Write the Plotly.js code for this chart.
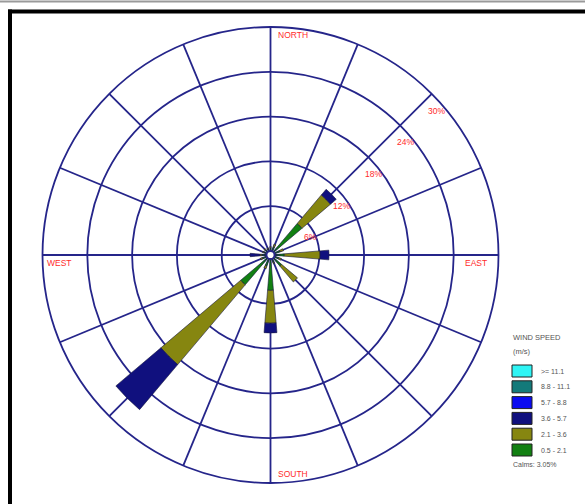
<!DOCTYPE html>
<html>
<head>
<meta charset="utf-8">
<script src="https://cdn.plot.ly/plotly-3.0.1.min.js"></script>
<style>
html,body{margin:0;padding:0;background:#fff;}
#chart{width:585px;height:504px;}
</style>
</head>
<body>
<div id="chart"></div>
<script>
// ---- data ----
var directions = [0, 22.5, 45, 67.5, 90, 112.5, 135, 157.5, 180, 202.5, 225, 247.5, 270, 292.5, 315, 337.5];
var speedClasses = ["0.5 - 2.1", "2.1 - 3.6", "3.6 - 5.7", "5.7 - 8.8", "8.8 - 11.1", ">= 11.1"];
var classColors = ["#128012", "#868610", "#10107e", "#0a0af0", "#137a7a", "#2ff5f5"];
var green  = [0.4, 0.6, 5.0, 0.8, 1.3, 0.6, 1.4, 0.5, 4.2, 1.0, 4.7, 0.6, 0.6, 0.4, 0.4, 0.3];
var olive  = [0.2, 0.4, 5.0, 0.5, 4.8, 0.4, 2.8, 0.2, 4.4, 0.4, 14.0, 0.3, 0.3, 0.2, 0.2, 0.2];
var navy   = [0, 0, 1.0, 0, 1.2, 0, 0, 0, 1.3, 0, 7.9, 0, 1.3, 0, 0, 0];
var blue   = [0, 0, 0, 0, 0, 0, 0, 0, 0, 0, 0, 0, 0, 0, 0, 0];
var teal   = [0, 0, 0, 0, 0, 0, 0, 0, 0, 0, 0, 0, 0, 0, 0, 0];
var cyan   = [0, 0, 0, 0, 0, 0, 0, 0, 0, 0, 0, 0, 0, 0, 0, 0];
var seriesValues = [green, olive, navy, blue, teal, cyan];
var radialTicks = [6, 12, 18, 24, 30];
var radialTickLabels = ["6%", "12%", "18%", "24%", "30%"];
var compassLabels = ["NORTH", "EAST", "SOUTH", "WEST"];
var legendTitle = ["WIND SPEED", "(m/s)"];
var calmsText = "Calms: 3.05%";

// ---- layout geometry (pixels) ----
var W = 585, H = 504;
var cx = 270.5, cy = 255, R = 228, holePx = 4;
function px(x){ return x / W; }
function py(y){ return 1 - y / H; }

var grid = "#25258a";
var red = "#ff2b2b";

var traces = seriesValues.map(function(vals, i){
  return {
    type: "barpolar",
    r: vals,
    theta: directions,
    width: 9.5,
    name: speedClasses[i],
    marker: {color: classColors[i], line: {color: "#1a1a40", width: 0.6}},
    showlegend: false,
    hoverinfo: "skip"
  };
});

var annotations = [];
var shapes = [];

// compass labels
var compassPos = [[293, 35], [476, 263], [293, 474], [59, 263]];
compassLabels.forEach(function(t, i){
  annotations.push({xref:"paper", yref:"paper", x:px(compassPos[i][0]), y:py(compassPos[i][1]),
    text:t, showarrow:false, xanchor:"center", yanchor:"middle",
    font:{family:"Liberation Sans, Arial, sans-serif", size:8.5, color:red}});
});

// radial percentage labels along the 45 degree spoke
var rMax = radialTicks[radialTicks.length - 1];
radialTicks.forEach(function(v, i){
  var rp = holePx + v / rMax * (R - holePx);
  var x = cx + rp * Math.SQRT1_2 + 5;
  var y = cy - rp * Math.SQRT1_2 + 17;
  annotations.push({xref:"paper", yref:"paper", x:px(x), y:py(y),
    text:radialTickLabels[i], showarrow:false, xanchor:"center", yanchor:"middle",
    font:{family:"Liberation Sans, Arial, sans-serif", size:8.5, color:red}});
});

// legend (drawn manually)
var legTop = 365, legStep = 15.8, boxW = 20, boxH = 12, boxX = 512;
annotations.push({xref:"paper", yref:"paper", x:px(boxX - 1), y:py(337), text:legendTitle[0],
  showarrow:false, xanchor:"left", yanchor:"middle",
  font:{family:"Liberation Sans, Arial, sans-serif", size:7.5, color:"#555"}});
annotations.push({xref:"paper", yref:"paper", x:px(boxX - 1), y:py(351), text:legendTitle[1],
  showarrow:false, xanchor:"left", yanchor:"middle",
  font:{family:"Liberation Sans, Arial, sans-serif", size:7.5, color:"#555"}});
for (var k = 0; k < speedClasses.length; k++){
  var idx = speedClasses.length - 1 - k;
  var y0 = legTop + k * legStep;
  shapes.push({type:"rect", xref:"paper", yref:"paper",
    x0:px(boxX), x1:px(boxX + boxW), y0:py(y0), y1:py(y0 + boxH),
    fillcolor:classColors[idx], line:{color:"#222", width:1}});
  annotations.push({xref:"paper", yref:"paper", x:px(539), y:py(y0 + boxH/2),
    text:speedClasses[idx], showarrow:false, xanchor:"left", yanchor:"middle",
    font:{family:"Liberation Sans, Arial, sans-serif", size:7, color:"#555"}});
}
annotations.push({xref:"paper", yref:"paper", x:px(boxX - 1), y:py(464), text:calmsText,
  showarrow:false, xanchor:"left", yanchor:"middle",
  font:{family:"Liberation Sans, Arial, sans-serif", size:7, color:"#555"}});

// frame
shapes.push({type:"line", xref:"paper", yref:"paper", x0:0, x1:1, y0:py(1.5), y1:py(1.5),
  line:{color:"#9a9a9a", width:2}});
shapes.push({type:"line", xref:"paper", yref:"paper", x0:px(8), x1:1, y0:py(11.5), y1:py(11.5),
  line:{color:"#000", width:4}});
shapes.push({type:"line", xref:"paper", yref:"paper", x0:px(10), x1:px(10), y0:py(9.5), y1:0,
  line:{color:"#000", width:4}});

var layout = {
  width: W, height: H,
  margin: {l:0, r:0, t:0, b:0, pad:0},
  paper_bgcolor: "#fff",
  showlegend: false,
  barmode: "stack",
  polar: {
    domain: {x:[px(cx - R), px(cx + R)], y:[py(cy + R), py(cy - R)]},
    bgcolor: "#fff",
    hole: holePx / R,
    barmode: "stack",
    radialaxis: {
      range: [0, rMax], tickvals: radialTicks, showticklabels: false, ticks: "",
      showline: false, gridcolor: grid, gridwidth: 1.8, angle: 45
    },
    angularaxis: {
      direction: "clockwise", rotation: 90, tickvals: directions,
      showticklabels: false, ticks: "", gridcolor: grid, gridwidth: 1.8,
      showline: true, linecolor: grid, linewidth: 1.8
    }
  },
  annotations: annotations,
  shapes: shapes
};

Plotly.newPlot("chart", traces, layout, {displayModeBar:false, staticPlot:true});
</script>
</body>
</html>
